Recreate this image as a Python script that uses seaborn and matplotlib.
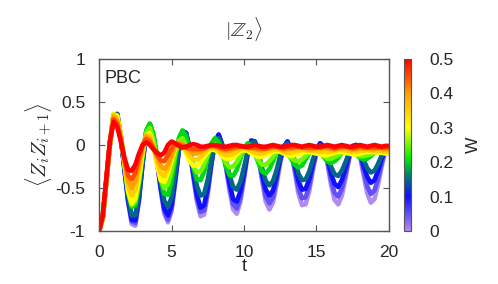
import numpy as np
import pandas as pd
import matplotlib
matplotlib.use('Agg')
import matplotlib.pyplot as plt
from matplotlib.colors import LinearSegmentedColormap, Normalize
from matplotlib.cm import ScalarMappable
import seaborn as sns

# time grid (step 0.25) and disorder strengths
t = np.linspace(0, 20, 81)
W_levels = [0.0, 0.05, 0.10, 0.15, 0.20, 0.25, 0.30, 0.35, 0.40, 0.45, 0.50]

# <Z_i Z_i+1>(t), one list per W
zz_w000 = [-1.0, -0.85, -0.42, 0.02, 0.35, 0.36, 0.09, -0.29, -0.66, -0.92,
           -0.94, -0.65, -0.22, 0.14, 0.24, 0.10, -0.19, -0.53, -0.80, -0.90,
           -0.77, -0.44, -0.07, 0.16, 0.14, -0.06, -0.37, -0.66, -0.83, -0.81,
           -0.57, -0.23, 0.04, 0.12, 0.0, -0.26, -0.53, -0.75, -0.80, -0.66,
           -0.40, -0.11, 0.05, 0.04, -0.15, -0.42, -0.66, -0.75, -0.67, -0.46,
           -0.20, -0.02, 0.04, -0.08, -0.31, -0.56, -0.70, -0.69, -0.54, -0.30,
           -0.09, 0.02, -0.03, -0.21, -0.46, -0.64, -0.69, -0.59, -0.39, -0.17,
           -0.02, 0.0, -0.13, -0.35, -0.56, -0.67, -0.63, -0.46, -0.25, -0.07,
           -0.02]
zz_w005 = [-1.0, -0.85, -0.42, 0.02, 0.35, 0.36, 0.09, -0.29, -0.65, -0.89,
           -0.91, -0.64, -0.21, 0.14, 0.24, 0.10, -0.18, -0.51, -0.77, -0.87,
           -0.74, -0.42, -0.07, 0.16, 0.14, -0.06, -0.35, -0.62, -0.78, -0.76,
           -0.54, -0.22, 0.04, 0.12, 0.0, -0.24, -0.49, -0.69, -0.74, -0.61,
           -0.37, -0.10, 0.05, 0.04, -0.14, -0.38, -0.60, -0.68, -0.61, -0.41,
           -0.18, -0.02, 0.04, -0.07, -0.28, -0.50, -0.62, -0.61, -0.48, -0.26,
           -0.08, 0.02, -0.03, -0.18, -0.40, -0.56, -0.60, -0.51, -0.34, -0.15,
           -0.02, 0.0, -0.11, -0.30, -0.48, -0.57, -0.53, -0.39, -0.21, -0.06,
           -0.02]
zz_w010 = [-1.0, -0.85, -0.42, 0.02, 0.35, 0.36, 0.09, -0.28, -0.64, -0.87,
           -0.88, -0.62, -0.21, 0.14, 0.24, 0.10, -0.18, -0.49, -0.74, -0.82,
           -0.70, -0.40, -0.06, 0.16, 0.14, -0.05, -0.33, -0.58, -0.73, -0.70,
           -0.49, -0.20, 0.04, 0.12, 0.0, -0.22, -0.44, -0.63, -0.66, -0.54,
           -0.33, -0.09, 0.05, 0.04, -0.12, -0.34, -0.52, -0.59, -0.53, -0.36,
           -0.16, -0.02, 0.04, -0.06, -0.23, -0.42, -0.52, -0.51, -0.40, -0.22,
           -0.07, 0.02, -0.02, -0.15, -0.33, -0.45, -0.49, -0.41, -0.27, -0.12,
           -0.01, 0.0, -0.09, -0.24, -0.37, -0.44, -0.41, -0.30, -0.16, -0.05,
           -0.02]
zz_w015 = [-1.0, -0.85, -0.42, 0.02, 0.35, 0.36, 0.09, -0.27, -0.60, -0.82,
           -0.82, -0.57, -0.19, 0.14, 0.24, 0.10, -0.16, -0.43, -0.65, -0.72,
           -0.61, -0.34, -0.05, 0.16, 0.14, -0.04, -0.27, -0.48, -0.59, -0.57,
           -0.40, -0.16, 0.03, 0.08, 0.0, -0.17, -0.35, -0.49, -0.52, -0.43,
           -0.26, -0.07, 0.03, 0.03, -0.10, -0.27, -0.42, -0.47, -0.42, -0.29,
           -0.12, -0.01, 0.02, -0.05, -0.18, -0.33, -0.41, -0.40, -0.31, -0.17,
           -0.05, 0.0, -0.03, -0.11, -0.25, -0.34, -0.36, -0.30, -0.20, -0.09,
           -0.03, -0.02, -0.06, -0.17, -0.27, -0.32, -0.30, -0.22, -0.12, -0.05,
           -0.03]
zz_w020 = [-1.0, -0.85, -0.42, 0.02, 0.35, 0.34, 0.11, -0.22, -0.54, -0.72,
           -0.70, -0.45, -0.11, 0.17, 0.25, 0.13, -0.12, -0.39, -0.57, -0.58,
           -0.42, -0.16, 0.08, 0.17, 0.10, -0.07, -0.26, -0.40, -0.41, -0.31,
           -0.14, 0.02, 0.08, 0.03, -0.10, -0.25, -0.35, -0.36, -0.29, -0.16,
           -0.04, 0.02, -0.01, -0.10, -0.21, -0.31, -0.33, -0.28, -0.19, -0.08,
           -0.03, -0.03, -0.09, -0.16, -0.23, -0.26, -0.24, -0.17, -0.10, -0.05,
           -0.04, -0.08, -0.14, -0.19, -0.21, -0.19, -0.15, -0.09, -0.06, -0.05,
           -0.08, -0.11, -0.15, -0.17, -0.16, -0.13, -0.09, -0.06, -0.06, -0.08,
           -0.10]
zz_w025 = [-1.0, -0.85, -0.42, 0.02, 0.35, 0.34, 0.11, -0.22, -0.54, -0.70,
           -0.66, -0.42, -0.10, 0.14, 0.20, 0.06, -0.18, -0.40, -0.50, -0.46,
           -0.30, -0.10, 0.05, 0.08, 0.0, -0.13, -0.25, -0.32, -0.31, -0.23,
           -0.11, -0.02, 0.01, -0.03, -0.12, -0.21, -0.26, -0.25, -0.20, -0.12,
           -0.05, -0.03, -0.06, -0.11, -0.18, -0.23, -0.23, -0.19, -0.14, -0.08,
           -0.06, -0.07, -0.11, -0.15, -0.18, -0.19, -0.17, -0.13, -0.09, -0.07,
           -0.07, -0.10, -0.13, -0.16, -0.16, -0.14, -0.12, -0.09, -0.08, -0.08,
           -0.10, -0.11, -0.13, -0.13, -0.12, -0.11, -0.09, -0.08, -0.08, -0.09,
           -0.10]
zz_w030 = [-1.0, -0.85, -0.42, 0.03, 0.36, 0.34, 0.11, -0.22, -0.53, -0.68,
           -0.62, -0.38, -0.10, 0.11, 0.14, -0.01, -0.24, -0.41, -0.43, -0.33,
           -0.18, -0.04, 0.02, -0.01, -0.10, -0.19, -0.24, -0.24, -0.20, -0.14,
           -0.08, -0.05, -0.06, -0.09, -0.13, -0.16, -0.17, -0.14, -0.11, -0.07,
           -0.06, -0.07, -0.10, -0.12, -0.14, -0.14, -0.12, -0.10, -0.08, -0.07,
           -0.08, -0.10, -0.12, -0.13, -0.12, -0.11, -0.09, -0.08, -0.08, -0.09,
           -0.10, -0.11, -0.12, -0.12, -0.10, -0.09, -0.08, -0.08, -0.09, -0.10,
           -0.11, -0.11, -0.10, -0.09, -0.08, -0.08, -0.08, -0.09, -0.09, -0.10,
           -0.10]
zz_w035 = [-1.0, -0.85, -0.42, 0.03, 0.35, 0.31, 0.09, -0.21, -0.48, -0.59,
           -0.52, -0.30, -0.06, 0.11, 0.11, -0.02, -0.19, -0.33, -0.36, -0.28,
           -0.15, -0.03, 0.03, 0.0, -0.07, -0.13, -0.17, -0.17, -0.14, -0.10,
           -0.05, -0.03, -0.04, -0.07, -0.10, -0.12, -0.12, -0.10, -0.08, -0.05,
           -0.04, -0.05, -0.07, -0.09, -0.10, -0.10, -0.09, -0.07, -0.06, -0.05,
           -0.06, -0.08, -0.09, -0.09, -0.08, -0.07, -0.06, -0.06, -0.07, -0.07,
           -0.07, -0.08, -0.08, -0.08, -0.08, -0.07, -0.06, -0.06, -0.06, -0.07,
           -0.08, -0.08, -0.07, -0.07, -0.06, -0.07, -0.07, -0.07, -0.07, -0.08,
           -0.08]
zz_w040 = [-1.0, -0.85, -0.42, 0.03, 0.33, 0.28, 0.07, -0.19, -0.42, -0.50,
           -0.42, -0.22, -0.01, 0.10, 0.07, -0.02, -0.14, -0.24, -0.28, -0.23,
           -0.12, -0.01, 0.03, 0.01, -0.03, -0.07, -0.10, -0.10, -0.08, -0.05,
           -0.02, -0.01, -0.02, -0.04, -0.06, -0.07, -0.07, -0.05, -0.04, -0.02,
           -0.02, -0.03, -0.04, -0.05, -0.06, -0.06, -0.05, -0.04, -0.03, -0.03,
           -0.04, -0.05, -0.05, -0.05, -0.04, -0.03, -0.03, -0.04, -0.05, -0.05,
           -0.04, -0.04, -0.03, -0.04, -0.05, -0.05, -0.04, -0.04, -0.03, -0.04,
           -0.05, -0.05, -0.04, -0.04, -0.04, -0.05, -0.05, -0.04, -0.04, -0.05,
           -0.05]
zz_w045 = [-1.0, -0.84, -0.40, 0.04, 0.30, 0.25, 0.06, -0.17, -0.36, -0.40,
           -0.33, -0.16, 0.0, 0.07, 0.04, -0.04, -0.12, -0.18, -0.19, -0.12,
           -0.04, 0.01, 0.01, -0.01, -0.03, -0.04, -0.05, -0.05, -0.05, -0.04,
           -0.02, -0.01, -0.01, -0.03, -0.04, -0.05, -0.04, -0.03, -0.02, -0.02,
           -0.02, -0.03, -0.03, -0.03, -0.04, -0.04, -0.04, -0.03, -0.02, -0.02,
           -0.03, -0.04, -0.03, -0.03, -0.02, -0.02, -0.03, -0.03, -0.03, -0.03,
           -0.03, -0.03, -0.02, -0.02, -0.03, -0.04, -0.03, -0.02, -0.02, -0.03,
           -0.04, -0.03, -0.02, -0.03, -0.03, -0.03, -0.03, -0.03, -0.03, -0.03,
           -0.03]
zz_w050 = [-1.0, -0.82, -0.38, 0.05, 0.27, 0.21, 0.04, -0.15, -0.29, -0.30,
           -0.23, -0.10, 0.0, 0.03, 0.0, -0.05, -0.09, -0.12, -0.09, 0.0,
           0.04, 0.02, -0.01, -0.03, -0.02, 0.0, 0.01, 0.0, -0.02, -0.02,
           -0.01, 0.0, 0.0, -0.01, -0.02, -0.02, -0.01, 0.0, 0.0, -0.01,
           -0.02, -0.02, -0.01, 0.0, -0.01, -0.02, -0.02, -0.01, 0.0, -0.01,
           -0.02, -0.02, -0.01, 0.0, 0.0, -0.01, -0.02, -0.01, 0.0, -0.01,
           -0.02, -0.02, -0.01, 0.0, -0.01, -0.02, -0.01, 0.0, -0.01, -0.02,
           -0.02, -0.01, 0.0, -0.01, -0.02, -0.01, 0.0, -0.01, -0.02, -0.01,
           -0.01]

curves = [zz_w000, zz_w005, zz_w010, zz_w015, zz_w020, zz_w025,
          zz_w030, zz_w035, zz_w040, zz_w045, zz_w050]

# long table for seaborn
df = pd.concat([pd.DataFrame({'t': t, 'zz': c, 'W': w})
                for w, c in zip(W_levels, curves)], ignore_index=True)

# gnuplot-like rainbow: purple -> blue -> teal -> green -> yellow -> orange -> red
cmap = LinearSegmentedColormap.from_list('wmap', [
    (0.00, '#b08cf0'),
    (0.20, '#1010ff'),
    (0.32, '#007a70'),
    (0.42, '#00ee00'),
    (0.60, '#ffff00'),
    (0.80, '#ffa000'),
    (1.00, '#ff0000'),
])
norm = Normalize(0, 0.5)

sns.set_style('ticks')
plt.rcParams['font.family'] = ['Liberation Sans', 'DejaVu Sans']
plt.rcParams['mathtext.fontset'] = 'cm'

fig = plt.figure(figsize=(4.98, 2.84), dpi=100)
ax = fig.add_axes([0.199, 0.187, 0.582, 0.605])
cax = fig.add_axes([0.811, 0.187, 0.014, 0.605])

sns.lineplot(data=df, x='t', y='zz', hue='W', palette=cmap, hue_norm=norm,
             legend=False, lw=3.3, ax=ax, estimator=None, sort=False)

ax.set_xlim(0, 20)
ax.set_ylim(-1, 1)
ax.set_xticks([0, 5, 10, 15, 20])
ax.set_yticks([-1, -0.5, 0, 0.5, 1])
ax.set_yticklabels(['-1', '-0.5', '0', '0.5', '1'])
ax.tick_params(direction='in', top=True, right=True, length=4,
               labelsize=12.5, color='#555555', pad=10)
for s in ax.spines.values():
    s.set_color('#555555')
    s.set_linewidth(1)

ax.set_xlabel('t', fontsize=13, labelpad=-1)
ax.set_ylabel(r'$\langle Z_i Z_{i+1}\rangle$', fontsize=15, labelpad=1)
ax.set_title(r'$|\mathbb{Z}_2\rangle$', fontsize=14, pad=16)
ax.text(0.4, 0.72, 'PBC', fontsize=13)

cb = fig.colorbar(ScalarMappable(norm=norm, cmap=cmap), cax=cax)
cb.set_ticks([0, 0.1, 0.2, 0.3, 0.4, 0.5])
cb.set_ticklabels(['0', '0.1', '0.2', '0.3', '0.4', '0.5'])
cb.ax.tick_params(direction='in', length=3, labelsize=12.5, color='#555555', pad=13)
cb.outline.set_edgecolor('#555555')
cb.set_label('W', fontsize=12.5, labelpad=9)

fig.savefig('out.png', dpi=100)
